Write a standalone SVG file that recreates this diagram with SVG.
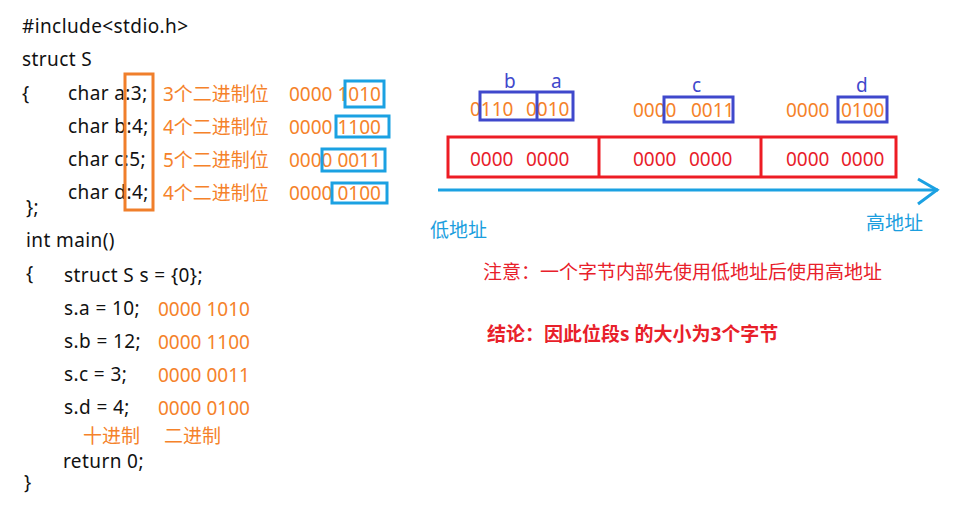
<svg xmlns="http://www.w3.org/2000/svg" width="961" height="509" viewBox="0 0 961 509">
<style>
text{font-family:"Noto Sans","Noto Sans CJK SC",sans-serif;font-size:19px}
.k{fill:#111;letter-spacing:0.4px}
.o{fill:#f5822a}
.r{fill:#e8202a}
.c{fill:#1b9ede}
.p{fill:#3f48cc}
.bo{fill:none;stroke:#f07f2b;stroke-width:3}
.bc{fill:none;stroke:#1ba1e2;stroke-width:3}
.bp{fill:none;stroke:#3f48cc;stroke-width:3}
.br{fill:none;stroke:#ed1c24;stroke-width:3}
</style>
<rect width="961" height="509" fill="#fff"/>
<g id="code">
<text class="k" x="22" y="33">#include&lt;stdio.h&gt;</text>
<text class="k" x="22" y="66">struct S</text>
<text class="k" x="22" y="100">{</text>
<text class="k" x="68" y="100">char a:3;</text>
<text class="k" x="68" y="133">char b:4;</text>
<text class="k" x="68" y="166">char c:5;</text>
<text class="k" x="68" y="199">char d:4;</text>
<text class="k" x="26" y="214">};</text>
<text class="k" x="26" y="247">int main()</text>
<text class="k" x="26" y="280">{</text>
<text class="k" x="64" y="282">struct S s = {0};</text>
<text class="k" x="64" y="315">s.a = 10;</text>
<text class="k" x="64" y="348">s.b = 12;</text>
<text class="k" x="64" y="381">s.c = 3;</text>
<text class="k" x="64" y="414">s.d = 4;</text>
<text class="k" x="63" y="468">return 0;</text>
<text class="k" x="24" y="489">}</text>
</g>
<g id="bits-notes">
<text class="o" x="163" y="101">3个二进制位</text>
<text class="o" x="163" y="134">4个二进制位</text>
<text class="o" x="163" y="167">5个二进制位</text>
<text class="o" x="163" y="200">4个二进制位</text>
<text class="o" x="289" y="101">0000 1010</text>
<text class="o" x="289" y="134">0000 1100</text>
<text class="o" x="289" y="167">0000 0011</text>
<text class="o" x="289" y="200">0000 0100</text>
<text class="o" x="158" y="316">0000 1010</text>
<text class="o" x="158" y="349">0000 1100</text>
<text class="o" x="158" y="382">0000 0011</text>
<text class="o" x="158" y="415">0000 0100</text>
<text class="o" x="83" y="443">十进制</text>
<text class="o" x="164" y="443">二进制</text>
</g>
<g id="bit-boxes">
<rect class="bo" x="125" y="74" width="28" height="136"/>
<rect class="bc" x="345" y="81" width="39" height="26"/>
<rect class="bc" x="336" y="116" width="53" height="21"/>
<rect class="bc" x="322" y="149" width="63" height="22"/>
<rect class="bc" x="332" y="183" width="55" height="20"/>
</g>
<g id="memory">
<text class="p" x="504" y="88">b</text>
<text class="p" x="551" y="88">a</text>
<text class="p" x="692" y="92">c</text>
<text class="p" x="856" y="92">d</text>
<text class="o" x="470" y="116">0110</text>
<text class="o" x="526" y="116">0010</text>
<text class="o" x="633" y="117">0000</text>
<text class="o" x="691" y="117">0011</text>
<text class="o" x="786" y="117">0000</text>
<text class="o" x="841" y="117">0100</text>
<rect class="bp" x="480" y="92" width="93" height="28"/>
<line class="bp" x1="537" y1="92" x2="537" y2="120"/>
<rect class="bp" x="664" y="97" width="69" height="25"/>
<rect class="bp" x="838" y="97" width="49" height="25"/>
<rect class="br" x="448" y="137" width="448" height="40"/>
<line class="br" x1="599" y1="137" x2="599" y2="177"/>
<line class="br" x1="761" y1="137" x2="761" y2="177"/>
<text class="r" x="470" y="166">0000</text>
<text class="r" x="526" y="166">0000</text>
<text class="r" x="633" y="166">0000</text>
<text class="r" x="689" y="166">0000</text>
<text class="r" x="786" y="166">0000</text>
<text class="r" x="841" y="166">0000</text>
</g>
<g id="connectors">
<line x1="438" y1="190" x2="938" y2="190" stroke="#1ba1e2" stroke-width="3"/>
<polyline points="918,179 937,190 918,204" fill="none" stroke="#1ba1e2" stroke-width="3"/>
</g>
<g id="labels">
<text class="c" x="430" y="237">低地址</text>
<text class="c" x="866" y="230">高地址</text>
<text class="r" x="483" y="279">注意：一个字节内部先使用低地址后使用高地址</text>
<text class="r" x="487" y="341" style="font-weight:bold">结论：因此位段s 的大小为3个字节</text>
</g>
</svg>
